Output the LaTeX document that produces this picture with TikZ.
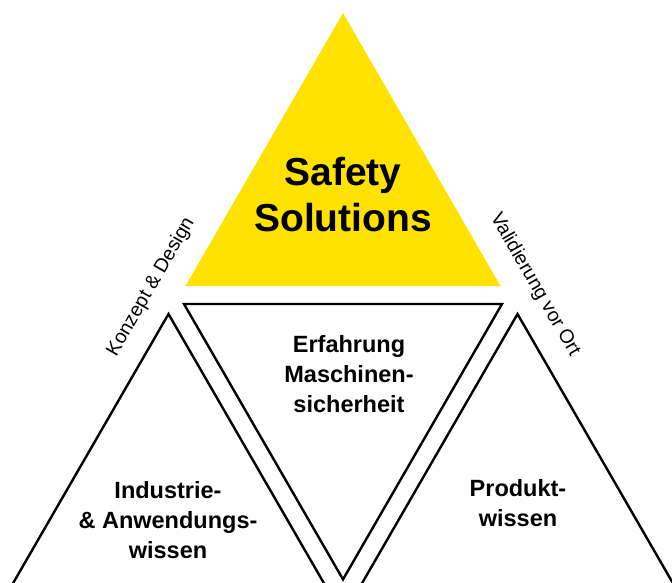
\documentclass[tikz,border=0pt]{standalone}
\usepackage{fontspec}
\setmainfont{Liberation Sans}
\definecolor{safetyyellow}{HTML}{FFE200}
\tikzset{
  tri/.style={draw=black, line width=2.4pt, line join=miter, fill=white},
  bigtitle/.style={font=\bfseries\fontsize{39}{46}\selectfont, align=center, inner sep=0pt},
  lbl/.style={font=\bfseries\fontsize{23.5}{30}\selectfont, align=center, inner sep=0pt},
  sidelbl/.style={font=\fontsize{19.5}{22}\selectfont, inner sep=0pt}
}
\begin{document}
\begin{tikzpicture}[x=1pt,y=-1pt]
\useasboundingbox (0,0) rectangle (672,583);
\clip (0,0) rectangle (672,583);
% yellow top triangle
\coordinate (ya) at (343,13);
\coordinate (yl) at (185.5,286);
\coordinate (yr) at (500.5,286);
\fill[safetyyellow] (ya) -- (yl) -- (yr) -- cycle;
% inverted middle triangle
\coordinate (ml) at (184,304);
\coordinate (mr) at (502,304);
\coordinate (mb) at (343,579.4);
\draw[tri] (ml) -- (mr) -- (mb) -- cycle;
% left triangle
\coordinate (la) at (168.5,314);
\coordinate (ll) at (-31.5,660.4);
\coordinate (lr) at (368.5,660.4);
\draw[tri] (la) -- (ll) -- (lr) -- cycle;
% right triangle
\coordinate (ra) at (517.5,314);
\coordinate (rl) at (317.5,660.4);
\coordinate (rr) at (717.5,660.4);
\draw[tri] (ra) -- (rl) -- (rr) -- cycle;
% texts
\node[bigtitle] (title) at (343,194.5) {Safety\\Solutions};
\node[lbl] (erf) at (349,374.5) {Erfahrung\\Maschinen-\\sicherheit};
\node[lbl] (ind) at (168,520) {Industrie-\\\& Anwendungs-\\wissen};
\node[lbl] (prod) at (518,503.5) {Produkt-\\wissen};
\node[sidelbl, rotate=60] (konz) at (151,287) {Konzept \& Design};
\node[sidelbl, rotate=-60] (vali) at (535,285) {Validierung vor Ort};
\end{tikzpicture}
\end{document}
